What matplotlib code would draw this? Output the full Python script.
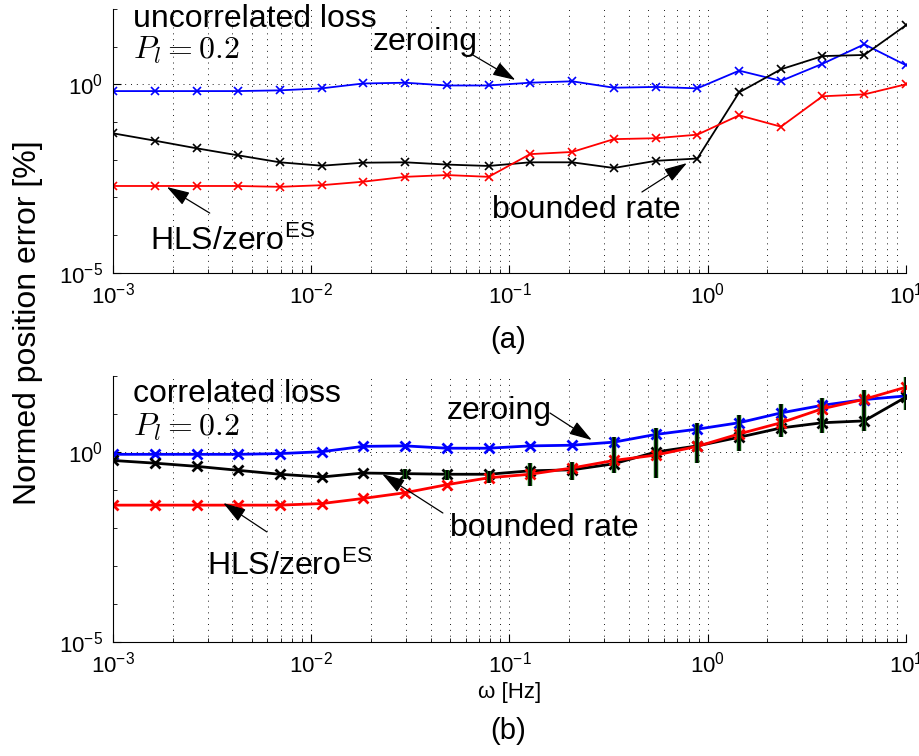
import numpy as np
import matplotlib
matplotlib.use('Agg')
import matplotlib.pyplot as plt
from matplotlib.ticker import FixedLocator, NullFormatter, LogFormatterSciNotation

plt.rcParams['font.family'] = ['Liberation Sans', 'DejaVu Sans']
plt.rcParams['mathtext.fontset'] = 'cm'

# ---------------- data ----------------
omega = [0.001, 0.00162, 0.00264, 0.00428, 0.00695, 0.0113, 0.0183, 0.0298,
         0.0483, 0.0785, 0.127, 0.207, 0.336, 0.546, 0.886, 1.44, 2.34, 3.79,
         6.16, 10.0]

# (a) uncorrelated loss
zeroing_a = [0.66, 0.66, 0.66, 0.66, 0.69, 0.78, 1.05, 1.10, 0.93, 0.93,
             1.10, 1.20, 0.81, 0.85, 0.78, 2.3, 1.23, 3.5, 11.5, 3.2]
bounded_a = [0.050, 0.032, 0.020, 0.013, 0.0085, 0.0069, 0.0083, 0.0085,
             0.0074, 0.0068, 0.0085, 0.0085, 0.0060, 0.0093, 0.0107, 0.61,
             2.5, 5.6, 6.0, 37.0]
hls_a = [0.0020, 0.0020, 0.0020, 0.0020, 0.0019, 0.0021, 0.0026, 0.0035,
         0.0039, 0.0035, 0.014, 0.016, 0.035, 0.037, 0.046, 0.15, 0.075,
         0.48, 0.54, 1.0]

# (b) correlated loss
zeroing_b = [0.87, 0.87, 0.87, 0.87, 0.91, 1.02, 1.41, 1.45, 1.26, 1.26,
             1.45, 1.51, 1.82, 2.9, 4.0, 5.9, 10.7, 17.0, 24.0, 30.0]
bounded_b = [0.60, 0.51, 0.42, 0.33, 0.26, 0.22, 0.28, 0.27, 0.26, 0.26,
             0.32, 0.34, 0.49, 1.0, 1.45, 2.45, 4.3, 5.9, 6.6, 28.0]
hls_b = [0.040, 0.040, 0.040, 0.040, 0.040, 0.044, 0.060, 0.085, 0.138,
         0.21, 0.26, 0.38, 0.60, 0.83, 1.41, 3.0, 5.9, 13.8, 24.5, 51.0]

nan = float('nan')
err_lo_b = [nan] * 7 + [0.20, 0.18, 0.15, 0.13, 0.18, 0.28, 0.21, 0.50,
                        1.05, 2.45, 3.1, 3.5, 12.6]
err_hi_b = [nan] * 7 + [0.35, 0.33, 0.32, 0.50, 0.54, 2.45, 4.2, 5.8,
                        9.3, 18.0, 26.0, 42.0, 95.0]

y_major = [1e-5, 1e0]
y_minor = [1e-4, 1e-3, 1e-2, 1e-1, 1e1, 1e2]

# ---------------- figure ----------------
fig = plt.figure(figsize=(9.2, 7.56), dpi=100)
ax_a = fig.add_axes([0.1228, 0.6393, 0.8620, 0.3489])
ax_b = fig.add_axes([0.1228, 0.1508, 0.8620, 0.3518])

TXT = 23
TICK = 16
GRID = dict(linestyle=(0, (1, 5)), color='0.1', linewidth=0.7)


def style(ax):
    ax.set_xscale('log')
    ax.set_yscale('log')
    ax.set_xlim(1e-3, 1e1)
    ax.set_ylim(1e-5, 1e2)
    ax.spines['top'].set_visible(False)
    ax.spines['right'].set_visible(False)
    ax.yaxis.set_major_locator(FixedLocator(y_major))
    ax.yaxis.set_minor_locator(FixedLocator(y_minor))
    ax.yaxis.set_major_formatter(LogFormatterSciNotation())
    ax.yaxis.set_minor_formatter(NullFormatter())
    ax.tick_params(which='both', direction='in', labelsize=TICK)
    ax.tick_params(which='major', length=6, width=0.8)
    ax.tick_params(which='minor', length=3, width=0.6)
    ax.tick_params(axis='y', pad=7)
    ax.tick_params(axis='x', pad=7)
    ax.grid(True, which='major', axis='both', **GRID)
    ax.grid(True, which='minor', axis='x', **GRID)
    ax.set_axisbelow(True)


style(ax_a)
style(ax_b)

# ---- panel (a)
ax_a.plot(omega, zeroing_a, color='b', marker='x', ms=6, mew=1.2, lw=1.3)
ax_a.plot(omega, bounded_a, color='k', marker='x', ms=6, mew=1.2, lw=1.3)
ax_a.plot(omega, hls_a, color='r', marker='x', ms=6, mew=1.2, lw=1.3)

# ---- panel (b)
ax_b.plot(omega, zeroing_b, color='b', marker='x', ms=7, mew=2, lw=2)
ax_b.plot(omega, bounded_b, color='k', marker='x', ms=7, mew=2, lw=2)
ax_b.plot(omega, hls_b, color='r', marker='x', ms=7, mew=2, lw=2)
ax_b.vlines(omega, err_lo_b, err_hi_b, color='#0b5a0b', lw=3.2, zorder=3)
ax_b.vlines(omega, err_lo_b, err_hi_b, color='k', lw=1.6, zorder=3.1)

# ---- annotations
arrow = dict(arrowstyle='-|>,head_length=0.7,head_width=0.22',
             color='k', lw=0.9, mutation_scale=20, shrinkA=0, shrinkB=0)

ax_a.text(0.025, 0.931, 'uncorrelated loss', transform=ax_a.transAxes,
          fontsize=TXT, ha='left', va='baseline')
ax_a.text(0.025, 0.810, r'$P_l = 0.2$', transform=ax_a.transAxes,
          fontsize=TXT, ha='left', va='baseline')
ax_a.text(0.327, 0.843, 'zeroing', transform=ax_a.transAxes,
          fontsize=TXT, ha='left', va='baseline')
ax_a.annotate('', xy=(0.107, 1.3), xycoords='data',
              xytext=(0.454, 0.825), textcoords='axes fraction',
              arrowprops=arrow)
ax_a.text(0.478, 0.207, 'bounded rate', transform=ax_a.transAxes,
          fontsize=TXT, ha='left', va='baseline')
ax_a.annotate('', xy=(0.785, 0.0081), xycoords='data',
              xytext=(0.667, 0.306), textcoords='axes fraction',
              arrowprops=arrow)
ax_a.text(0.047, 0.086, r'HLS/zero$^{\mathdefault{ES}}$',
          transform=ax_a.transAxes, fontsize=TXT, ha='left', va='baseline')
ax_a.annotate('', xy=(0.00187, 0.00188), xycoords='data',
              xytext=(0.122, 0.226), textcoords='axes fraction',
              arrowprops=arrow)

ax_b.text(0.025, 0.902, 'correlated loss', transform=ax_b.transAxes,
          fontsize=TXT, ha='left', va='baseline')
ax_b.text(0.025, 0.778, r'$P_l = 0.2$', transform=ax_b.transAxes,
          fontsize=TXT, ha='left', va='baseline')
ax_b.text(0.421, 0.838, 'zeroing', transform=ax_b.transAxes,
          fontsize=TXT, ha='left', va='baseline')
ax_b.annotate('', xy=(0.26, 2.07), xycoords='data',
              xytext=(0.551, 0.861), textcoords='axes fraction',
              arrowprops=arrow)
ax_b.text(0.425, 0.398, 'bounded rate', transform=ax_b.transAxes,
          fontsize=TXT, ha='left', va='baseline')
ax_b.annotate('', xy=(0.0228, 0.264), xycoords='data',
              xytext=(0.416, 0.485), textcoords='axes fraction',
              arrowprops=arrow)
ax_b.text(0.1185, 0.252, r'HLS/zero$^{\mathdefault{ES}}$',
          transform=ax_b.transAxes, fontsize=TXT, ha='left', va='baseline')
ax_b.annotate('', xy=(0.0036, 0.0455), xycoords='data',
              xytext=(0.194, 0.414), textcoords='axes fraction',
              arrowprops=arrow)

# ---- labels
ax_b.set_xlabel('ω [Hz]', fontsize=16, labelpad=3)
fig.text(28 / 920, 1 - 323 / 756, 'Normed position error [%]', rotation=90,
         fontsize=TXT, ha='center', va='center')
fig.text(508 / 920, 1 - 340 / 756, '(a)', fontsize=21, ha='center',
         va='center')
fig.text(508 / 920, 1 - 731 / 756, '(b)', fontsize=21, ha='center',
         va='center')

fig.savefig('out.png', dpi=100)
